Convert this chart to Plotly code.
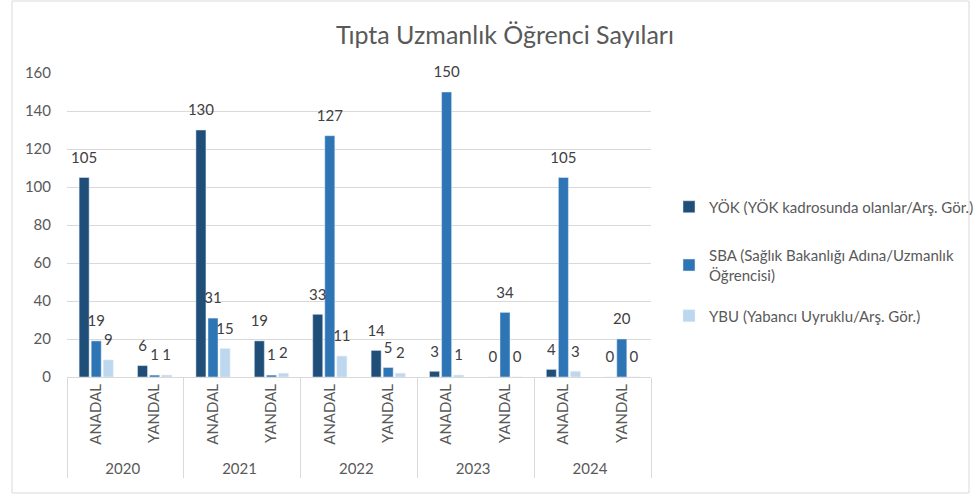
import plotly.graph_objects as go

years = ["2020", "2020", "2021", "2021", "2022", "2022", "2023", "2023", "2024", "2024"]
types = ["ANADAL", "YANDAL"] * 5
yok = [105, 6, 130, 19, 33, 14, 3, 0, 4, 0]
sba = [19, 1, 31, 1, 127, 5, 150, 34, 105, 20]
ybu = [9, 1, 15, 2, 11, 2, 1, 0, 3, 0]
series_names = [
    "YÖK (YÖK kadrosunda olanlar/Arş. Gör.)",
    "SBA (Sağlık Bakanlığı Adına/Uzmanlık<br>Öğrencisi)",
    "YBU (Yabancı Uyruklu/Arş. Gör.)",
]
colors = ["#1F4E79", "#2E75B6", "#BDD7EE"]
legend_ids = ["legend", "legend2", "legend3"]

PL, PR, PT, PB = 67, 651, 73, 377
PW, PH = PR - PL, PB - PT

def px_x(x):
    return (x - PL) / PW

def px_y(y):
    return (PB - y) / PH

FONT = "Lato, 'Open Sans', sans-serif"
fig = go.Figure()
for name, vals, col, lg in zip(series_names, [yok, sba, ybu], colors, legend_ids):
    fig.add_trace(go.Bar(
        x=[years, types], y=vals, name=name, marker_color=col,
        cliponaxis=False, legend=lg, hoverinfo="skip",
    ))
# data labels, grouped exactly like the bars
for name, vals in zip(series_names, [yok, sba, ybu]):
    fig.add_trace(go.Scatter(
        x=[years, types], y=vals, mode="markers+text", text=[str(v) for v in vals],
        textposition="top center", marker=dict(size=16, opacity=0),
        textfont=dict(size=15, color="#404040", family=FONT),
        showlegend=False, cliponaxis=False, hoverinfo="skip",
    ))

legend_style = dict(xanchor="left", yanchor="middle", font=dict(size=15, color="#595959"),
                    bgcolor="rgba(0,0,0,0)")
fig.update_layout(
    width=978, height=495,
    margin=dict(l=PL, r=978 - PR, t=PT, b=495 - PB, autoexpand=False),
    paper_bgcolor="white", plot_bgcolor="white",
    barmode="group", bargap=0.38, bargroupgap=0.17,
    scattermode="group", scattergap=0.38,
    hovermode=False,
    font=dict(family=FONT, color="#595959", size=14),
    title=dict(text="Tıpta Uzmanlık Öğrenci Sayıları", x=505 / 978, xanchor="center",
               y=1 - 35 / 495, yanchor="middle", font=dict(size=25, color="#595959")),
    legend=dict(x=px_x(669), y=px_y(207), **legend_style),
    legend2=dict(x=px_x(669), y=px_y(265), **legend_style),
    legend3=dict(x=px_x(669), y=px_y(316), **legend_style),
    showlegend=True,
)
fig.update_yaxes(range=[0, 160], dtick=20, gridcolor="#D9D9D9", showline=False,
                 zeroline=False, ticks="", tickfont=dict(size=15, color="#595959"),
                 ticklabelstandoff=15)
fig.update_xaxes(tickangle=-90, showline=True, linecolor="#D9D9D9", showdividers=True,
                 dividercolor="#D9D9D9", dividerwidth=1, ticks="",
                 tickfont=dict(size=15, color="#595959"))
fig.add_shape(type="rect", xref="paper", yref="paper",
              x0=px_x(12), x1=px_x(969), y0=px_y(493), y1=px_y(1),
              line=dict(color="#D9D9D9", width=1), layer="below")
fig.write_html("out.html", config={"displayModeBar": False},
               post_script="document.body.style.margin='0';")
